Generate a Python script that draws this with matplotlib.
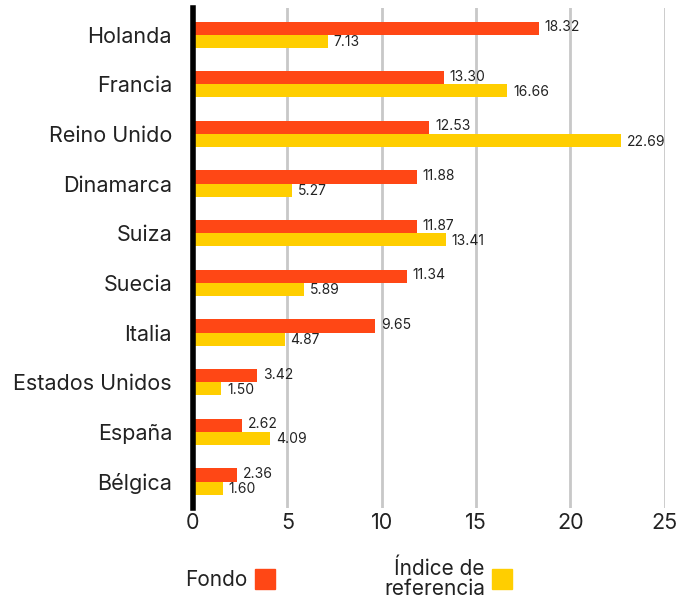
import numpy as np
import matplotlib.pyplot as plt
from matplotlib.patches import Rectangle

countries = ['Holanda', 'Francia', 'Reino Unido', 'Dinamarca', 'Suiza',
             'Suecia', 'Italia', 'Estados Unidos', 'España', 'Bélgica']
fondo = [18.32, 13.30, 12.53, 11.88, 11.87, 11.34, 9.65, 3.42, 2.62, 2.36]
indice = [7.13, 16.66, 22.69, 5.27, 13.41, 5.89, 4.87, 1.50, 4.09, 1.60]
xticks = [0, 5, 10, 15, 20, 25]

c_fondo = '#FF4715'
c_indice = '#FFCE00'

plt.rcParams['font.family'] = ['Inter', 'DejaVu Sans']

fig = plt.figure(figsize=(6.89, 6.06), dpi=100)
ax = fig.add_axes([0.280, 0.162, 0.685, 0.825])

y = np.arange(len(countries))
h = 0.265
ax.barh(y - h / 2, fondo, height=h, color=c_fondo, zorder=3)
ax.barh(y + h / 2, indice, height=h, color=c_indice, zorder=3)

for yi, v in zip(y, fondo):
    ax.text(v + 0.3, yi - h / 2 - 0.02, f'{v:.2f}', va='center', ha='left', fontsize=10, color='#222222')
for yi, v in zip(y, indice):
    ax.text(v + 0.3, yi + h / 2 + 0.02, f'{v:.2f}', va='center', ha='left', fontsize=10, color='#222222')

ax.set_xlim(0, 25)
ax.set_ylim(len(countries) - 1 + 0.53, -0.54)
ax.set_yticks(y)
ax.set_yticklabels(countries, fontsize=15.5, color='#222222')
ax.set_xticks(xticks)
ax.set_xticklabels([str(t) for t in xticks], fontsize=15.5, color='#222222')
ax.tick_params(axis='y', length=0, pad=15)
ax.tick_params(axis='x', length=0, pad=4)
ax.grid(axis='x', color='#C8C8C8', linewidth=2, zorder=0)
for s in ['top', 'right', 'bottom']:
    ax.spines[s].set_visible(False)
ax.spines['left'].set_linewidth(4)
ax.spines['left'].set_color('black')
ax.spines['left'].set_zorder(5)

# legend
fig.text(247 / 689, 1 - 580 / 606, 'Fondo', ha='right', va='center', fontsize=15, color='#222222')
fig.patches.append(Rectangle((255 / 689, 1 - 589 / 606), 20 / 689, 20 / 606,
                             transform=fig.transFigure, color=c_fondo))
fig.text(485 / 689, 1 - 579 / 606, 'Índice de\nreferencia', ha='right', va='center',
         fontsize=15, color='#222222', linespacing=1.0)
fig.patches.append(Rectangle((492 / 689, 1 - 589 / 606), 20 / 689, 20 / 606,
                             transform=fig.transFigure, color=c_indice))

fig.savefig('out.png', dpi=100)
